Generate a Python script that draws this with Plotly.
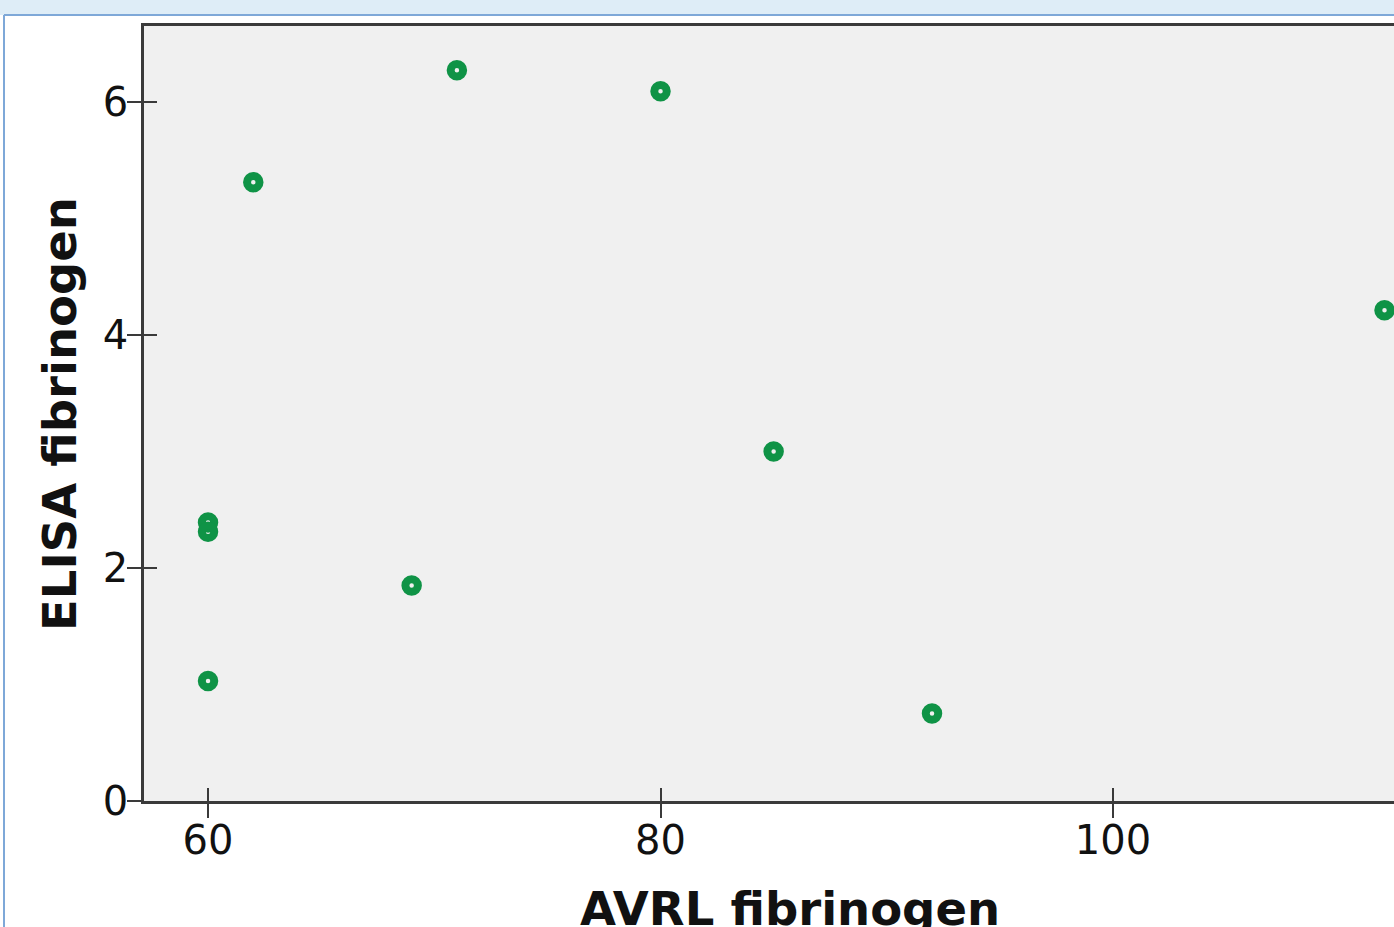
import plotly.graph_objects as go

# Data
avrl_fibrinogen = [71.0, 80.0, 62.0, 112.0, 85.0, 60.0, 60.0, 69.0, 60.0, 92.0]
elisa_fibrinogen = [6.27, 6.09, 5.31, 4.21, 3.00, 2.39, 2.31, 1.85, 1.03, 0.75]

x_ticks = [60, 80, 100]
y_ticks = [0, 2, 4, 6]
x_title = "AVRL fibrinogen"
y_title = "ELISA fibrinogen"

W, H = 1394, 927
L, R, T, B = 144, 0, 26, 126
x_range = [57.17, 112.42]
y_range = [0, 6.65]

green = "#0f9346"
axis_col = "#3a3a3a"
font_fam = "DejaVu Sans"

fig = go.Figure()
fig.add_trace(go.Scatter(
    x=avrl_fibrinogen, y=elisa_fibrinogen, mode="markers",
    marker=dict(symbol="circle-open", size=12.5, color=green,
                line=dict(width=8, color=green)),
    hoverinfo="x+y", cliponaxis=False, showlegend=False))

tickfont = dict(family=font_fam, size=40, color="#111111")

fig.update_layout(
    width=W, height=H,
    margin=dict(l=L, r=R, t=T, b=B, pad=0),
    paper_bgcolor="white", plot_bgcolor="#f0f0f0",
    xaxis=dict(range=x_range, tickvals=x_ticks, ticks="outside", ticklen=14,
               tickwidth=2, tickcolor=axis_col, showline=True, linecolor=axis_col,
               linewidth=2.5, mirror=True, showgrid=False, zeroline=False,
               tickfont=tickfont, ticklabelstandoff=-12, fixedrange=True),
    xaxis2=dict(range=x_range, tickvals=x_ticks, ticks="inside", ticklen=13,
                tickwidth=2, tickcolor=axis_col, showline=False, showgrid=False,
                zeroline=False, showticklabels=False, overlaying="x",
                anchor="y", side="bottom", matches="x"),
    yaxis=dict(range=y_range, tickvals=y_ticks, ticks="outside", ticklen=14,
               tickwidth=2, tickcolor=axis_col, showline=True, linecolor=axis_col,
               linewidth=2.5, mirror=False, showgrid=False, zeroline=False,
               tickfont=tickfont, ticklabelstandoff=-9, fixedrange=True),
    yaxis2=dict(range=y_range, tickvals=y_ticks, ticks="inside", ticklen=13,
                tickwidth=2, tickcolor=axis_col, showline=False, showgrid=False,
                zeroline=False, showticklabels=False, overlaying="y",
                anchor="x", side="left", matches="y"),
    showlegend=False,
)
# empty trace to activate the overlay axes (crossing tick marks)
fig.add_trace(go.Scatter(x=[None], y=[None], xaxis="x2", yaxis="y2",
                         showlegend=False, hoverinfo="skip"))

def px_to_paper_x(px):
    return (px - L) / (W - L - R)

def px_to_paper_y(py):
    return (H - B - py) / (H - T - B)

# outer frame (light blue header strip and border)
fig.add_shape(type="rect", xref="paper", yref="paper",
              x0=px_to_paper_x(0), x1=px_to_paper_x(W),
              y0=px_to_paper_y(15), y1=px_to_paper_y(0),
              fillcolor="#deedf7", line=dict(width=0), layer="below")
fig.add_shape(type="line", xref="paper", yref="paper",
              x0=px_to_paper_x(4), x1=px_to_paper_x(W),
              y0=px_to_paper_y(15), y1=px_to_paper_y(15),
              line=dict(color="#7ea8d8", width=2))
fig.add_shape(type="line", xref="paper", yref="paper",
              x0=px_to_paper_x(4), x1=px_to_paper_x(4),
              y0=px_to_paper_y(15), y1=px_to_paper_y(H),
              line=dict(color="#7ea8d8", width=2))

title_font = dict(family=font_fam, size=46.5, color="#111111")
fig.add_annotation(text="<b>" + x_title + "</b>", xref="paper", yref="paper",
                   x=px_to_paper_x(790), y=px_to_paper_y(880),
                   xanchor="center", yanchor="top", showarrow=False,
                   font=title_font)
fig.add_annotation(text="<b>" + y_title + "</b>", xref="paper", yref="paper",
                   x=px_to_paper_x(60), y=px_to_paper_y(414),
                   xanchor="center", yanchor="middle", showarrow=False,
                   textangle=-90, font=title_font)

fig.write_html("out.html",
               config={"displayModeBar": False},
               post_script="document.body.style.margin='0';document.body.style.overflow='hidden';")
